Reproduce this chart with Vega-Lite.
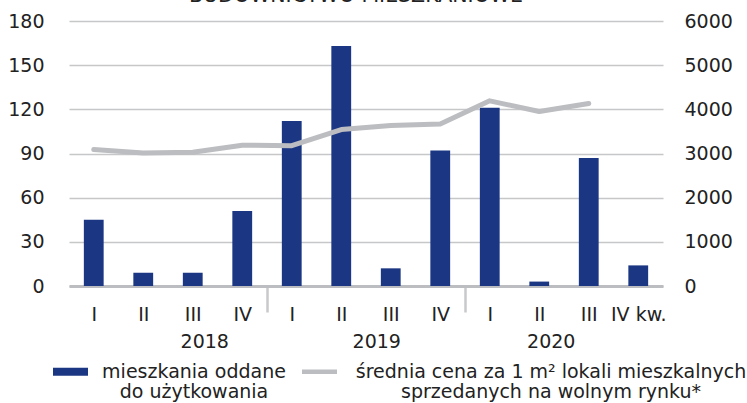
{
  "$schema": "https://vega.github.io/schema/vega-lite/v6.json",
  "width": 594,
  "height": 265,
  "autosize": {"type": "none"},
  "padding": {"left": 69, "top": 21, "right": 84, "bottom": 117},
  "background": "white",
  "title": {
    "text": "BUDOWNICTWO MIESZKANIOWE",
    "frame": "group",
    "offset": 2,
    "dy": 12,
    "baseline": "alphabetic",
    "fontSize": 20.5,
    "font": "DejaVu Sans",
    "fontWeight": "normal",
    "color": "#222222",
    "dx": -10
  },
  "config": {
    "font": "DejaVu Sans",
    "view": {"stroke": null},
    "legend": {"padding": 0}
  },
  "data": {
    "values": [
      {"id": "2018-I", "flats": 45, "price": 3090},
      {"id": "2018-II", "flats": 9, "price": 3012},
      {"id": "2018-III", "flats": 9, "price": 3030},
      {"id": "2018-IV", "flats": 51, "price": 3188},
      {"id": "2019-I", "flats": 112, "price": 3178},
      {"id": "2019-II", "flats": 163, "price": 3543},
      {"id": "2019-III", "flats": 12, "price": 3636},
      {"id": "2019-IV", "flats": 92, "price": 3668},
      {"id": "2020-I", "flats": 121, "price": 4192},
      {"id": "2020-II", "flats": 3, "price": 3950},
      {"id": "2020-III", "flats": 87, "price": 4132},
      {"id": "2020-IV", "flats": 14, "price": null}
    ]
  },
  "layer": [
    {
      "mark": {"type": "bar"},
      "encoding": {
        "x": {
          "field": "id",
          "type": "ordinal",
          "sort": null,
          "scale": {"paddingInner": 0.6, "paddingOuter": 0.3},
          "axis": {
            "orient": "bottom",
            "title": null,
            "labelAngle": 0,
            "labelExpr": "datum.value == '2020-IV' ? 'IV kw.' : split(datum.value, '-')[1]",
            "tickSize": 26,
            "tickWidth": 2.5,
            "tickOffset": -24.75,
            "labelOffset": 24.75,
            "tickColor": "#c8c9cb",
            "tickOpacity": {"condition": {"test": "datum.value == '2019-I' || datum.value == '2020-I'", "value": 1}, "value": 0},
            "labelPadding": -7,
            "domainColor": "#bcbdc0",
            "domainWidth": 3,
            "labelFont": "DejaVu Sans",
            "labelFontSize": 19,
            "labelColor": "#222222"
          }
        },
        "y": {
          "field": "flats",
          "type": "quantitative",
          "scale": {"domain": [0, 180]},
          "axis": {
            "title": null,
            "values": [0, 30, 60, 90, 120, 150, 180],
            "grid": true,
            "gridColor": "#c6c7c9",
            "gridWidth": 1.5,
            "domain": false,
            "ticks": false,
            "labelPadding": 25,
            "labelFont": "DejaVu Sans",
            "labelFontSize": 19,
            "labelColor": "#222222"
          }
        },
        "color": {
          "datum": "mieszkania",
          "scale": {"domain": ["mieszkania", "cena"], "range": ["#1b3683", "#bcbdc0"]},
          "legend": {
            "orient": "none",
            "legendX": -8,
            "legendY": 341,
            "direction": "horizontal",
            "title": null,
            "symbolType": "stroke",
            "symbolSize": 1225,
            "symbolStrokeWidth": 8,
            "labelFont": "DejaVu Sans",
            "labelFontSize": 19,
            "labelColor": "#222222",
            "labelOffset": 15,
            "labelLimit": 600,
            "columnPadding": 7,
            "labelAlign": "center",
            "labelExpr": "datum.value == 'mieszkania' ? ['mieszkania oddane', 'do użytkowania'] : ['średnia cena za 1 m² lokali mieszkalnych', 'sprzedanych na wolnym rynku*']",
            "encode": {
              "symbols": {
                "update": {
                  "strokeWidth": {"signal": "datum.value == 'cena' ? 4.5 : 8"},
                  "stroke": {"scale": "color", "field": "value"},
                  "strokeCap": {"value": "butt"}
                }
              },
              "labels": {
                "update": {
                  "lineHeight": {"value": 20},
                  "dx": {"signal": "datum.value == 'mieszkania' ? 99 : 207"}
                }
              }
            }
          }
        }
      }
    },
    {
      "mark": {"type": "line", "strokeWidth": 5, "strokeCap": "round", "strokeJoin": "round"},
      "encoding": {
        "x": {
          "field": "id",
          "type": "ordinal",
          "sort": null,
          "axis": {
            "orient": "bottom",
            "title": null,
            "labelAngle": 0,
            "values": ["2018-III", "2019-III", "2020-II"],
            "labelExpr": "slice(datum.value, 0, 4)",
            "labelOffset": {"condition": {"test": "datum.value == '2019-III'", "value": -14}, "value": 12},
            "domain": false,
            "ticks": false,
            "tickSize": 0,
            "labelPadding": 46,
            "labelFont": "DejaVu Sans",
            "labelFontSize": 19,
            "labelColor": "#222222"
          }
        },
        "y": {
          "field": "price",
          "type": "quantitative",
          "scale": {"domain": [0, 6000]},
          "axis": {
            "orient": "right",
            "title": null,
            "values": [0, 1000, 2000, 3000, 4000, 5000, 6000],
            "format": "d",
            "grid": false,
            "domain": false,
            "ticks": false,
            "labelPadding": 21,
            "labelFont": "DejaVu Sans",
            "labelFontSize": 19,
            "labelColor": "#222222"
          }
        },
        "color": {"datum": "cena"}
      }
    }
  ],
  "resolve": {"scale": {"y": "independent"}, "axis": {"x": "independent"}}
}
